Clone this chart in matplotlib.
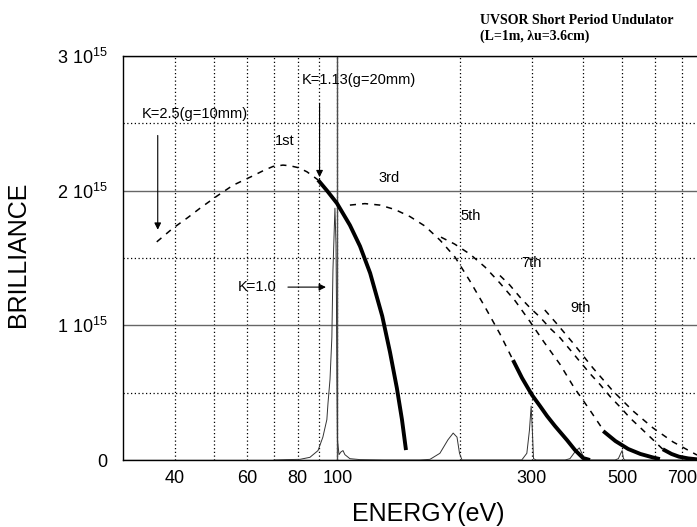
import matplotlib
matplotlib.use('Agg')
import matplotlib.pyplot as plt

plt.rcParams['font.family'] = ['Liberation Sans', 'DejaVu Sans']
plt.rcParams['mathtext.fontset'] = 'custom'
plt.rcParams['mathtext.rm'] = 'Liberation Sans'
plt.rcParams['mathtext.it'] = 'Liberation Sans'

# Brilliance in units of 1e15, energy in eV
first_dash_E = [36.1, 39.5, 43, 46.1, 50.7, 55.5, 62.1, 66, 69.6, 73.6, 76.6, 80.5, 84.3, 87, 89.7]
first_dash_B = [1.62, 1.72, 1.80, 1.87, 1.96, 2.04, 2.11, 2.15, 2.18, 2.19, 2.185, 2.17, 2.14, 2.11, 2.08]
first_bold_E = [89.7, 94.4, 99.8, 107.4, 113.7, 120.4, 128.9, 134.7, 140.0, 144.1, 147.4]
first_bold_B = [2.08, 2.00, 1.907, 1.744, 1.588, 1.388, 1.069, 0.80, 0.535, 0.30, 0.074]

third_dash_E = [107.4, 116.9, 127.3, 138.5, 150.7, 164.1, 178.6, 194.4, 211.5, 230.3, 250.6, 269.7]
third_dash_B = [1.893, 1.904, 1.893, 1.860, 1.808, 1.737, 1.633, 1.507, 1.329, 1.136, 0.936, 0.742]
third_bold_E = [269.7, 283.8, 300.2, 314.1, 326.8, 341.9, 365.8, 382.7, 400.4, 416.5]
third_bold_B = [0.742, 0.609, 0.483, 0.401, 0.327, 0.252, 0.148, 0.074, 0.015, 0.0]

fifth_dash_E = [179.6, 193.9, 211.5, 230.3, 250.5, 273.3, 296.2, 321.2, 351.2, 380.0, 416.2, 448.8]
fifth_dash_B = [1.655, 1.604, 1.529, 1.433, 1.314, 1.180, 1.032, 0.876, 0.713, 0.542, 0.371, 0.223]
fifth_bold_E = [448.8, 480.7, 516.7, 553.6, 594.3, 618]
fifth_bold_B = [0.215, 0.141, 0.082, 0.045, 0.019, 0.007]

seventh_dash_E = [250.5, 264.7, 280.4, 297, 314.4, 332, 351.2, 372, 393.7, 417, 441.0, 467,
                  495.0, 523, 553.6, 590, 628.1]
seventh_dash_B = [1.37, 1.30, 1.21, 1.13, 1.06, 0.98, 0.91, 0.82, 0.73, 0.64, 0.56, 0.47,
                  0.39, 0.31, 0.24, 0.16, 0.08]
seventh_bold_E = [628.1, 660, 688, 725, 762]
seventh_bold_B = [0.08, 0.045, 0.025, 0.012, 0.005]

ninth_dash_E = [322.7, 345.8, 378.4, 423.6, 474.3, 531.1, 594.6, 665.8, 762]
ninth_dash_B = [1.114, 1.010, 0.869, 0.683, 0.512, 0.364, 0.238, 0.134, 0.037]

# measured spectrum at K=1.0
spec_E = [70, 75, 81, 85.7, 89.7, 92.2, 94.3, 94.9, 96.0, 97.0, 97.6, 98.7, 99.3, 99.55, 99.8,
          100.1, 101.0, 102.1, 103.3, 104.4, 107.4, 113.7, 130, 159.5, 168.8, 178.5, 186.8,
          192.4, 196.6, 199.4, 202.2, 230, 283.3, 291.6, 295.9, 298.8, 301.0, 302.8, 307.4,
          361.8, 371.9, 382.5, 392.2, 397.8, 403.8, 479.7, 488.8, 495.6, 499.4, 503.1, 508.0,
          600, 762]
spec_B = [0, 0.003, 0.005, 0.02, 0.07, 0.17, 0.30, 0.42, 0.60, 0.91, 1.41, 1.87, 1.60, 1.19, 0.6,
          0.15, 0.04, 0.06, 0.07, 0.04, 0.01, 0.003, 0, 0, 0.005, 0.05, 0.15,
          0.20, 0.17, 0.05, 0, 0, 0, 0.05, 0.22, 0.40, 0.20, 0.01, 0,
          0, 0.01, 0.06, 0.09, 0.05, 0, 0, 0.01, 0.05, 0.07, 0.01, 0,
          0, 0]

x_major = [40, 60, 80, 100, 300, 500, 700]
x_minor = [50, 70, 90, 200, 400, 600]
y_major = [0, 1, 2, 3]
y_labels = ['0', r'1 10$^{15}$', r'2 10$^{15}$', r'3 10$^{15}$']
y_minor = [0.5, 1.5, 2.5]

fig = plt.figure(figsize=(6.97, 5.27), dpi=100)
ax = fig.add_axes([0.1765, 0.1271, 0.8235, 0.7666])
ax.set_xscale('log')
ax.set_xlim(29.84, 762)
ax.set_ylim(0, 3)

dot = (0, (1, 2))
ax.set_xticks(x_major)
ax.set_xticklabels([str(v) for v in x_major])
ax.set_xticks(x_minor, minor=True)
ax.set_xticklabels([], minor=True)
ax.set_yticks(y_major)
ax.set_yticklabels(y_labels)
ax.set_yticks(y_minor, minor=True)
ax.tick_params(which='both', length=0)
ax.tick_params(axis='x', labelsize=13, pad=7)
ax.tick_params(axis='y', labelsize=13, pad=11)
ax.grid(True, which='both', axis='x', color='black', linestyle=dot, linewidth=0.9)
ax.grid(True, which='minor', axis='y', color='black', linestyle=dot, linewidth=0.9)
ax.grid(True, which='major', axis='y', color='0.4', linestyle='-', linewidth=1.0)
ax.axvline(100, color='0.3', linewidth=1.0, zorder=1)
ax.set_axisbelow(True)
ax.spines['right'].set_visible(False)
for s in ['left', 'bottom', 'top']:
    ax.spines[s].set_linewidth(1.0)

dash = (0, (4, 4))
ax.plot(spec_E, spec_B, color='0.2', linewidth=0.7, zorder=3)
for e, b in [(first_dash_E, first_dash_B), (third_dash_E, third_dash_B), (fifth_dash_E, fifth_dash_B),
             (seventh_dash_E, seventh_dash_B), (ninth_dash_E, ninth_dash_B)]:
    ax.plot(e, b, color='black', linestyle=dash, linewidth=1.1, zorder=4)
for e, b in [(first_bold_E, first_bold_B), (third_bold_E, third_bold_B), (fifth_bold_E, fifth_bold_B),
             (seventh_bold_E, seventh_bold_B)]:
    ax.plot(e, b, color='black', linewidth=2.8, solid_capstyle='butt', zorder=5)

# annotations
fs = 10.5
ax.text(33.1, 2.569, 'K=2.5(g=10mm)', fontsize=fs, va='center', ha='left')
ax.text(81.9, 2.821, 'K=1.13(g=20mm)', fontsize=fs, va='center', ha='left')
ax.text(70.5, 2.370, '1st', fontsize=fs, va='center', ha='left')
ax.text(126.1, 2.091, '3rd', fontsize=fs, va='center', ha='left')
ax.text(200.7, 1.811, '5th', fontsize=fs, va='center', ha='left')
ax.text(283.3, 1.465, '7th', fontsize=fs, va='center', ha='left')
ax.text(372.1, 1.126, '9th', fontsize=fs, va='center', ha='left')
ax.text(57.0, 1.287, 'K=1.0', fontsize=fs, va='center', ha='left')

arrow = dict(arrowstyle='-|>', color='black', linewidth=0.8, mutation_scale=10, shrinkA=0, shrinkB=0)
ax.annotate('', xy=(36.3, 1.71), xytext=(36.3, 2.41), arrowprops=arrow)
ax.annotate('', xy=(90.5, 2.10), xytext=(90.5, 2.65), arrowprops=arrow)
ax.annotate('', xy=(93.8, 1.284), xytext=(75.7, 1.284), arrowprops=arrow)

ax.set_xlabel('ENERGY(eV)', fontsize=18)
ax.xaxis.set_label_coords(0.532, -0.133)
ax.xaxis.label.set_va('center')
ax.set_ylabel('BRILLIANCE', fontsize=18)
ax.yaxis.set_label_coords(-0.183, 0.51)
ax.yaxis.label.set_va('center')

fig.text(0.6887, 1 - 28.3 / 527, 'UVSOR Short Period Undulator\n(L=1m, \u03bbu=3.6cm)',
         fontsize=10, fontweight='bold', family=['Liberation Serif', 'DejaVu Serif'],
         ha='left', va='center', linespacing=1.25)

fig.savefig('out.png', dpi=100)
